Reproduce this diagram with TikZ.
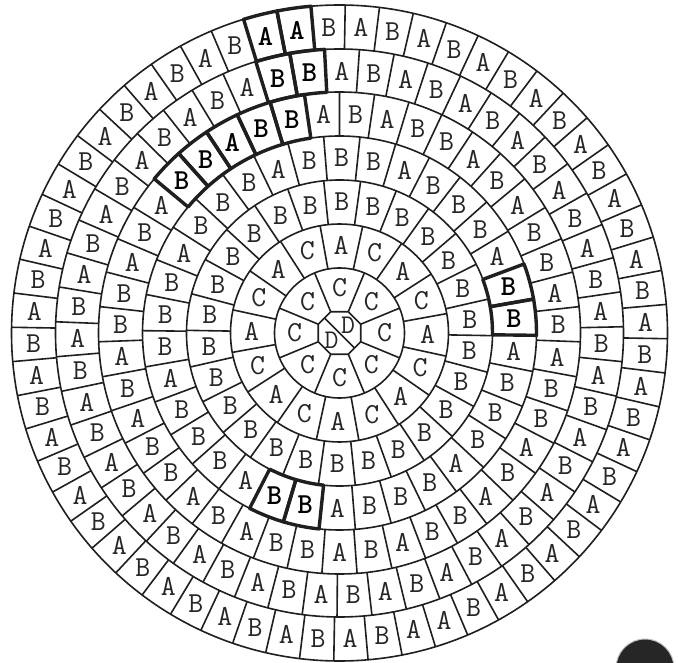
\documentclass[tikz,border=0pt]{standalone}
\tikzset{
  cellline/.style={line width=1.6pt, draw=black!88},
  thickcell/.style={line width=3.4pt, draw=black!88, line join=round},
  lbl/.style={font=\fontsize{29}{29}\selectfont\ttfamily, inner sep=0pt, text=black!85},
  blbl/.style={font=\fontsize{29}{29}\selectfont\ttfamily\bfseries, inner sep=0pt, text=black},
  dlbl/.style={font=\fontsize{27}{27}\selectfont\ttfamily, inner sep=0pt, text=black!85},
}
% #1 N, #2 theta0 (clockwise from top), #3 r inner, #4 r outer, #5 letter radius, #6 name, #7 letters
\newcommand\myring[7]{%
  \draw[cellline] (0,0) circle[radius=#4];
  \foreach \L [count=\i from 0] in {#7} {
    \pgfmathsetmacro\stp{360/(#1)}
    \pgfmathsetmacro\ang{90-(#2)-\i*\stp}
    \pgfmathsetmacro\edg{\ang+\stp/2}
    \node[lbl] (#6-\i) at (\ang:#5) {\L};
    \draw[cellline] (\edg:#3) -- (\edg:#4);
  }
}
% #1 N, #2 theta0, #3 rin, #4 rout, #5 letter radius, #6 index, #7 letter, #8 name
\newcommand\thkcell[8]{%
  \pgfmathsetmacro\stp{360/(#1)}
  \pgfmathsetmacro\ang{90-(#2)-(#6)*\stp}
  \pgfmathsetmacro\ea{\ang+\stp/2}
  \pgfmathsetmacro\eb{\ang-\stp/2}
  \draw[thickcell] (\ea:#3) -- (\ea:#4) arc[start angle=\ea, end angle=\eb, radius=#4]
     -- (\eb:#3) arc[start angle=\eb, end angle=\ea, radius=#3] -- cycle;
  \node[blbl] (#8) at (\ang:#5) {#7};
}
\begin{document}
\begin{tikzpicture}[x=1pt,y=1pt]
\useasboundingbox (0,0) rectangle (678,662);
\clip (0,0) rectangle (678,662);
\fill[white] (0,0) rectangle (678,662);
\begin{scope}[shift={(339.5,329)}]
  % centre octagon split in two
  \draw[cellline] (22.5:23) -- (67.5:23) -- (112.5:23) -- (157.5:23) -- (202.5:23)
     -- (247.5:23) -- (292.5:23) -- (337.5:23) -- cycle;
  \coordinate (dA) at (135:21.5);
  \coordinate (dB) at (-45:21.5);
  \draw[cellline] (dA) -- (dB);
  \node[dlbl] (d1) at (8.5,8) {D};
  \node[dlbl] (d2) at (-8,-7) {D};
  % ring 1
  \myring{8}{0}{23}{65}{45}{ra}{C,C,C,C,C,C,C,C}
  % ring 2
  \myring{16}{1}{65}{109}{88}{rb}{A,C,A,C,A,C,A,C,A,C,A,C,A,C,A,C}
  % ring 3
  \myring{26}{1}{109}{153}{131}{rc}{B,B,B,B,B,B,B,B,B,B,B,B,B,B,B,B,B,B,B,B,B,B,B,B,B,B}
  % ring 4
  \myring{34}{-20.5}{153}{197}{175}{rd}{A,B,B,B,A,B,B,B,A,{},{},A,B,B,B,A,B,B,B,A,{},{},A,B,B,B,A,B,B,B,A,B,B,B}
  % ring 5
  \myring{43}{4.19}{197}{241}{219}{re}{B,A,B,B,A,B,A,B,B,A,B,A,B,B,A,B,A,B,B,A,B,A,B,B,A,B,A,B,B,A,B,A,B,B,A,B,A,{},{},{},{},{},A}
  % ring 6
  \myring{51}{0.5}{241}{284}{262}{rf}{A,B,A,B,A,B,A,B,A,B,A,B,A,B,A,B,A,B,A,B,A,B,A,B,A,B,A,B,A,B,A,B,A,B,A,B,A,B,A,B,A,B,A,B,A,B,A,B,A,{},{}}
  % ring 7
  \myring{60}{-2}{284}{328}{306}{rg}{B,A,B,A,B,A,B,A,B,A,B,A,B,A,B,A,B,A,B,A,B,A,B,A,B,A,B,A,A,B,A,B,A,B,A,B,A,B,A,B,A,B,A,B,A,B,A,B,A,B,A,B,A,B,A,B,A,B,{},{}}
  % thick cells
  \thkcell{60}{-2}{284}{328}{306}{58}{A}{tg58}
  \thkcell{60}{-2}{284}{328}{306}{59}{A}{tg59}
  \thkcell{51}{0.5}{241}{284}{262}{49}{B}{tf49}
  \thkcell{51}{0.5}{241}{284}{262}{50}{B}{tf50}
  \thkcell{43}{4.19}{197}{241}{219}{37}{B}{te37}
  \thkcell{43}{4.19}{197}{241}{219}{38}{B}{te38}
  \thkcell{43}{4.19}{197}{241}{219}{39}{A}{te39}
  \thkcell{43}{4.19}{197}{241}{219}{40}{B}{te40}
  \thkcell{43}{4.19}{197}{241}{219}{41}{B}{te41}
  \thkcell{34}{-20.5}{153}{197}{175}{9}{B}{td9}
  \thkcell{34}{-20.5}{153}{197}{175}{10}{B}{td10}
  \thkcell{34}{-20.5}{153}{197}{175}{20}{B}{td20}
  \thkcell{34}{-20.5}{153}{197}{175}{21}{B}{td21}
\end{scope}
% dark disc at the lower right corner
\fill[black!85] (645,-6) circle[radius=29];
\draw[black!25, line width=1pt] (645,-6) circle[radius=29];
\end{tikzpicture}
\end{document}
